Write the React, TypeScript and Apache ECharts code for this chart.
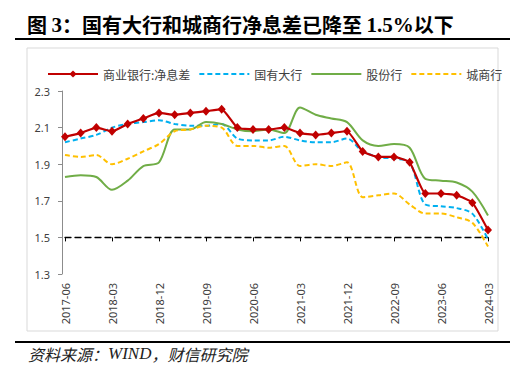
import React, { useEffect, useRef } from "react";
import * as echarts from "echarts";

const categories = [
  "2017-06", "2017-09", "2017-12", "2018-03", "2018-06", "2018-09", "2018-12",
  "2019-03", "2019-06", "2019-09", "2019-12", "2020-03", "2020-06", "2020-09",
  "2020-12", "2021-03", "2021-06", "2021-09", "2021-12", "2022-03", "2022-06",
  "2022-09", "2022-12", "2023-03", "2023-06", "2023-09", "2023-12", "2024-03",
];

const seriesNames = ["商业银行:净息差", "国有大行", "股份行", "城商行"];

const commercialBanks = [
  2.05, 2.07, 2.10, 2.08, 2.12, 2.15, 2.18, 2.17, 2.18, 2.19, 2.20, 2.10, 2.09, 2.09,
  2.10, 2.07, 2.06, 2.07, 2.08, 1.97, 1.94, 1.94, 1.91, 1.74, 1.74, 1.73, 1.69, 1.54,
];
const stateOwned = [
  2.02, 2.04, 2.06, 2.10, 2.12, 2.13, 2.14, 2.12, 2.11, 2.11, 2.12, 2.04, 2.03, 2.03,
  2.05, 2.03, 2.02, 2.02, 2.04, 1.97, 1.94, 1.93, 1.91, 1.68, 1.67, 1.66, 1.63, 1.49,
];
const jointStock = [
  1.83, 1.84, 1.83, 1.76, 1.81, 1.89, 1.91, 2.09, 2.09, 2.13, 2.12, 2.09, 2.08, 2.09,
  2.07, 2.21, 2.17, 2.15, 2.13, 2.03, 2.00, 2.01, 1.99, 1.82, 1.81, 1.80, 1.75, 1.62,
];
const cityBanks = [
  1.95, 1.94, 1.95, 1.90, 1.93, 1.97, 2.01, 2.08, 2.09, 2.11, 2.10, 2.00, 2.00, 1.99,
  2.00, 1.89, 1.90, 1.89, 1.91, 1.72, 1.73, 1.74, 1.68, 1.63, 1.63, 1.61, 1.58, 1.45,
];

const yTicks = [1.3, 1.5, 1.7, 1.9, 2.1, 2.3];
const refLevel = 1.5;

const titleText = "{a|图 }{n|3}{a|：国有大行和城商行净息差已降至 }{n|1.5%}{a|以下}";
const sourceText = "{a|资料来源：}{n|WIND}{a|，财信研究院}";

const W = 528;
const H = 376;
const GRID_TOP = 91;
const GRID_BOTTOM = 102;
const GRID_LEFT = 65;
const GRID_RIGHT = 40;

export default function App() {
  const ref = useRef<HTMLDivElement>(null);

  useEffect(() => {
    if (!ref.current) return;
    const chart = echarts.init(ref.current, undefined, { renderer: "svg" });
    const yMin = yTicks[0];
    const yMax = yTicks[yTicks.length - 1];
    const plotH = H - GRID_TOP - GRID_BOTTOM;
    const refOffset = ((refLevel - yMin) / (yMax - yMin)) * plotH;

    const cjk = "'Noto Sans CJK SC', sans-serif";
    const lineCommon = { smooth: 0.3, showSymbol: false, symbol: "none" };

    chart.setOption({
      animation: false,
      backgroundColor: "#ffffff",
      textStyle: { fontFamily: cjk },
      grid: { left: GRID_LEFT, right: GRID_RIGHT, top: GRID_TOP, bottom: GRID_BOTTOM, containLabel: false },
      legend: {
        data: [
          { name: seriesNames[0] },
          { name: seriesNames[1], itemStyle: { opacity: 0 } },
          { name: seriesNames[2], itemStyle: { opacity: 0 } },
          { name: seriesNames[3], itemStyle: { opacity: 0 } },
        ],
        left: 42,
        top: 63,
        itemWidth: 50,
        itemHeight: 9,
        itemGap: 8,
        textStyle: { fontSize: 12, color: "#404040", fontFamily: cjk },
      },
      xAxis: [
        {
          type: "category",
          data: categories,
          boundaryGap: false,
          axisLine: { show: false },
          axisTick: { show: false },
          axisLabel: {
            interval: 2,
            rotate: 90,
            margin: 9,
            fontSize: 11,
            color: "#404040",
            fontFamily: "'Noto Sans', sans-serif",
          },
          splitLine: { show: false },
        },
        {
          type: "category",
          data: categories,
          boundaryGap: false,
          position: "bottom",
          offset: -refOffset,
          axisLine: { show: true, lineStyle: { color: "#000000", width: 1.3, type: [6, 4] } },
          axisTick: { show: true, interval: 2, length: 4, lineStyle: { color: "#000000", width: 1 } },
          axisLabel: { show: false },
          splitLine: { show: false },
        },
      ],
      yAxis: {
        type: "value",
        min: yMin,
        max: yMax,
        interval: 0.2,
        offset: 3,
        axisLine: { show: true, lineStyle: { color: "#8c8c8c", width: 1 } },
        axisTick: { show: true, length: 4, lineStyle: { color: "#8c8c8c" } },
        axisLabel: {
          margin: 12,
          fontSize: 11,
          color: "#404040",
          fontFamily: "'Noto Sans', sans-serif",
          formatter: (v: number) => v.toFixed(1),
        },
        splitLine: { show: false },
      },
      series: [
        {
          name: seriesNames[1],
          type: "line",
          data: stateOwned,
          ...lineCommon,
          z: 2,
          itemStyle: { color: "#00B0F0" },
          lineStyle: { color: "#00B0F0", width: 2, type: [5, 3] },
        },
        {
          name: seriesNames[2],
          type: "line",
          data: jointStock,
          ...lineCommon,
          z: 2,
          itemStyle: { color: "#70AD47" },
          lineStyle: { color: "#70AD47", width: 2 },
        },
        {
          name: seriesNames[3],
          type: "line",
          data: cityBanks,
          ...lineCommon,
          z: 2,
          itemStyle: { color: "#FFC000" },
          lineStyle: { color: "#FFC000", width: 2, type: [5, 3] },
        },
        {
          name: seriesNames[0],
          type: "line",
          data: commercialBanks,
          smooth: 0.15,
          symbol: "diamond",
          symbolSize: [8, 9],
          showSymbol: true,
          z: 3,
          itemStyle: { color: "#C00000" },
          lineStyle: { color: "#C00000", width: 2.2 },
        },
      ],
      graphic: [
        {
          type: "text",
          left: 27,
          top: 14,
          style: {
            text: titleText,
            fill: "#000000",
            rich: {
              a: { fontFamily: cjk, fontWeight: "bold", fontSize: 20, fill: "#000" },
              n: { fontFamily: "'Liberation Serif', serif", fontWeight: "bold", fontSize: 21, fill: "#000" },
            },
          },
        },
        {
          type: "line",
          shape: { x1: 15, y1: 39, x2: 510, y2: 39 },
          style: { stroke: "#000000", lineWidth: 2 },
        },
        {
          type: "rect",
          shape: { x: 27, y: 48, width: 471, height: 283 },
          style: { fill: "none", stroke: "#D9D9D9", lineWidth: 1 },
          z: -1,
        },
        {
          type: "line",
          shape: { x1: 15, y1: 342, x2: 510, y2: 342 },
          style: { stroke: "#000000", lineWidth: 2 },
        },
        {
          type: "text",
          left: 28,
          top: 345,
          style: {
            text: sourceText,
            fill: "#222",
            rich: {
              a: { fontFamily: cjk, fontStyle: "italic", fontSize: 16, fill: "#222" },
              n: { fontFamily: "'Liberation Serif', serif", fontStyle: "italic", fontSize: 17, fill: "#222" },
            },
          },
        },
      ],
    });

    return () => chart.dispose();
  }, []);

  return (
    <div
      ref={ref}
      style={{ position: "fixed", left: 0, top: 0, width: W, height: H, background: "#fff" }}
    />
  );
}
